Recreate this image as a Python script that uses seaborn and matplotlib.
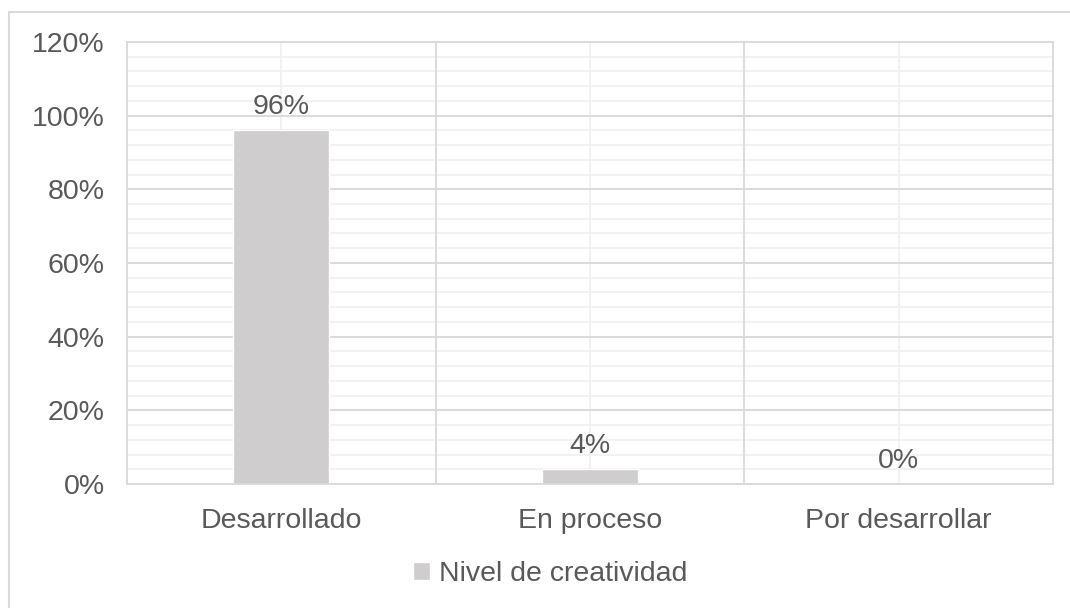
import matplotlib
matplotlib.use('Agg')
import matplotlib.pyplot as plt
import seaborn as sns
from matplotlib.patches import Rectangle
from matplotlib.ticker import FixedLocator, PercentFormatter

# Data
categories = ['Desarrollado', 'En proceso', 'Por desarrollar']
values = [0.96, 0.04, 0.0]
series_name = 'Nivel de creatividad'
y_ticks = [0, 0.2, 0.4, 0.6, 0.8, 1.0, 1.2]

bar_color = '#cfcdcd'
text_color = '#595959'
major_grid = '#d9d9d9'
minor_grid = '#f0f0f0'

sns.set_style('white')
plt.rcParams['font.family'] = ['Liberation Sans', 'DejaVu Sans']

fig = plt.figure(figsize=(10.7, 6.08), dpi=100)
ax = fig.add_axes([0.1187, 0.204, 0.8654, 0.727])

sns.barplot(x=categories, y=values, color=bar_color, width=0.31,
            label=series_name, ax=ax, saturation=1)
if ax.get_legend() is not None:
    ax.get_legend().remove()

ax.set_xlim(-0.5, 2.5)
ax.set_ylim(0, 1.2)
ax.set_yticks(y_ticks)
ax.yaxis.set_major_formatter(PercentFormatter(1.0, decimals=0))

# Excel-like grid: light minor lines, darker major lines
ax.set_axisbelow(True)
for y in [i * 0.04 for i in range(31)]:
    ax.axhline(y, color=minor_grid, lw=1.2, zorder=0)
for y in y_ticks:
    ax.axhline(y, color=major_grid, lw=1.3, zorder=0.5)
for x in [0, 1, 2]:
    ax.axvline(x, color=minor_grid, lw=1.2, zorder=0)
for x in [0.5, 1.5]:
    ax.axvline(x, color=major_grid, lw=1.3, zorder=0.5)

for side in ['left', 'right', 'bottom', 'top']:
    ax.spines[side].set_visible(True)
    ax.spines[side].set_color(major_grid)
    ax.spines[side].set_linewidth(1.3)

ax.tick_params(axis='both', which='both', length=0, labelsize=20.5,
               labelcolor=text_color)
ax.tick_params(axis='y', pad=16)
ax.tick_params(axis='x', pad=17)
ax.set_xlabel('')
ax.set_ylabel('')

ax.bar_label(ax.containers[0], labels=[f'{v:.0%}' for v in values],
             padding=7.5, fontsize=20.5, color=text_color)

handles, labels = ax.get_legend_handles_labels()
fig.legend(handles, labels, loc='center', bbox_to_anchor=(0.514, 0.056),
           frameon=False, fontsize=20.5, handlelength=0.6, handleheight=0.6,
           handletextpad=0.3, labelcolor=text_color)

# outer chart border (bottom and right fall outside the picture)
fig.patches.append(Rectangle((9 / 1070, -0.05), 1.2, 1.05 - 12 / 608,
                             transform=fig.transFigure, fill=False,
                             edgecolor=major_grid, lw=1.5))

fig.savefig('out.png', dpi=100)
